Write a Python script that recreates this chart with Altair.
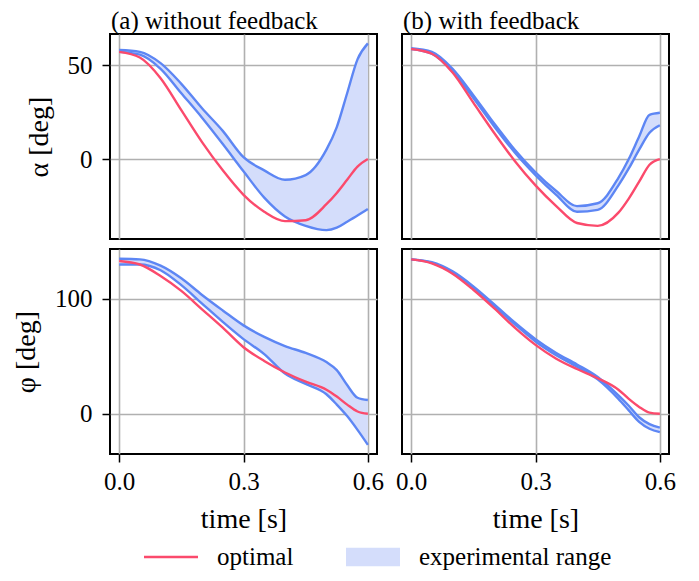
import altair as alt
import pandas as pd

# time grid [s]
T = [0.0, 0.05, 0.10, 0.15, 0.20, 0.25, 0.30, 0.35, 0.40, 0.45, 0.50, 0.525, 0.55, 0.575, 0.60]

# (a) without feedback, alpha [deg]
A_ALPHA_OPT = [57, 54, 43, 26, 9, -6, -19, -28, -33, -32.5, -24, -18, -11, -4, 0]
A_ALPHA_HI = [58, 57, 51, 40, 27, 15, 1, -6, -11, -8.5, 5, 17, 35, 53, 61.5]
A_ALPHA_LO = [57, 55.5, 48, 35, 22, 8, -6.5, -20.5, -30.5, -35.5, -37.8, -36.5, -33.3, -30, -26.5]

# (b) with feedback, alpha [deg]
B_ALPHA_OPT = [58.5, 56, 46, 30, 14, -1, -14, -25, -34, -35.5, -28.5, -21, -12, -3, 0]
B_ALPHA_HI = [58.9, 57, 48, 34, 19, 5, -7, -17, -25, -23.5, -10, 0, 12, 23.5, 24.6]
B_ALPHA_LO = [58.5, 56, 46.5, 32.5, 17.5, 3.5, -8.5, -19, -28, -27, -14, -5, 5, 14, 18]

# (a) without feedback, phi [deg]
A_PHI_OPT = [133, 130, 120, 107, 91, 75, 58, 46, 36, 28, 21, 15, 8, 2, 0]
A_PHI_HI = [135, 134.5, 129, 118, 103.5, 90, 77, 67, 59, 53, 45, 38, 25, 14, 12]
A_PHI_LO = [130, 130, 125, 112, 96, 80, 65, 52, 35, 26, 17, 8, -2, -14, -27]

# (b) with feedback, phi [deg]
B_PHI_OPT = [134.5, 131, 122, 108, 92, 75, 60, 48, 39, 31, 21, 13, 6, 1, 0]
B_PHI_HI = [134.5, 132, 124, 111, 95.5, 79.5, 65, 53, 43, 32, 16, 7, -3, -9, -12]
B_PHI_LO = [134.5, 131.5, 123, 110, 94, 78, 63, 51, 41, 30, 13, 3, -7, -13, -16]

X_TICKS = [0.0, 0.3, 0.6]
ALPHA_TICKS = [0, 50]
PHI_TICKS = [0, 100]
TITLES = ["(a) without feedback", "(b) with feedback"]
LEGEND_LABELS = ["optimal", "experimental range"]

RED = "#fb4a6c"
BLUE = "#5d86f4"
FILL = "#d4ddfb"
FONT = "Liberation Serif"
FS = 25
TFS = 28
LW = 2.4

W, H = 267, 205
X_DOMAIN = [-0.022, 0.622]
ALPHA_DOMAIN = [-42.5, 66.5]
PHI_DOMAIN = [-35, 143.5]

SYM_SIZE = 2916
LINE_PATH = "M-1,-0.045H1V0.045H-1Z"
RECT_PATH = "M-1,-0.34H1V0.34H-1Z"

LEG_X = 34
LEG_Y = 496


def panel(opt, lo, hi, ydomain, yticks, show_x, show_y, ytitle, title=None, legend=False):
    df = pd.DataFrame({"t": T, "opt": opt, "lo": lo, "hi": hi})
    base = alt.Chart(df)
    xscale = alt.Scale(domain=X_DOMAIN, nice=False, zero=False)
    yscale = alt.Scale(domain=ydomain, nice=False, zero=False)
    xaxis = alt.Axis(values=X_TICKS, format=".1f", grid=True, labels=show_x, ticks=show_x,
                     title="time [s]" if show_x else "")
    yaxis = alt.Axis(values=yticks, format="d", grid=True, labels=show_y, ticks=show_y,
                     title=ytitle if show_y else "")
    x = alt.X("t:Q", scale=xscale, axis=xaxis)

    def y(field):
        return alt.Y(field + ":Q", scale=yscale, axis=yaxis)

    area = base.mark_area(color=FILL, interpolate="monotone", opacity=1).encode(
        x=x, y=y("lo"), y2="hi:Q",
    )
    hi_line = base.mark_line(color=BLUE, strokeWidth=LW, interpolate="monotone").encode(x=x, y=y("hi"))
    lo_line = base.mark_line(color=BLUE, strokeWidth=LW, interpolate="monotone").encode(x=x, y=y("lo"))
    opt_line = base.mark_line(color=RED, strokeWidth=LW, interpolate="monotone").encode(x=x, y=y("opt"))
    layers = [area, hi_line, lo_line, opt_line]
    if legend:
        leg_df = pd.DataFrame({"series": LEGEND_LABELS})
        lg = alt.Legend(title=None, orient="none", direction="horizontal", legendX=LEG_X, legendY=LEG_Y,
                        symbolSize=SYM_SIZE, labelLimit=400)
        leg = alt.Chart(leg_df).mark_point(filled=True, size=SYM_SIZE, opacity=1).encode(
            color=alt.Color("series:N", scale=alt.Scale(domain=LEGEND_LABELS, range=[RED, FILL]), legend=lg),
            shape=alt.Shape("series:N", scale=alt.Scale(domain=LEGEND_LABELS, range=[LINE_PATH, RECT_PATH]),
                            legend=lg),
        ).transform_filter("false")
        layers.append(leg)
    ch = alt.layer(*layers).properties(width=W, height=H)
    if title:
        ch = ch.properties(title=alt.TitleParams(title, anchor="start", frame="group", font=FONT, fontSize=FS,
                                                 fontWeight="normal", color="black", offset=0, dx=1))
    return ch


p1 = panel(A_ALPHA_OPT, A_ALPHA_LO, A_ALPHA_HI, ALPHA_DOMAIN, ALPHA_TICKS, False, True, "α [deg]", TITLES[0])
p2 = panel(B_ALPHA_OPT, B_ALPHA_LO, B_ALPHA_HI, ALPHA_DOMAIN, ALPHA_TICKS, False, False, None, TITLES[1])
p3 = panel(A_PHI_OPT, A_PHI_LO, A_PHI_HI, PHI_DOMAIN, PHI_TICKS, True, True, "φ [deg]", legend=True)
p4 = panel(B_PHI_OPT, B_PHI_LO, B_PHI_HI, PHI_DOMAIN, PHI_TICKS, True, False, None)

chart = alt.concat(p1, p2, p3, p4, columns=2, spacing={"row": 10, "column": 25}, bounds="flush").properties(
    padding={"left": 3, "top": 0, "right": 5, "bottom": 5}
).resolve_scale(x="independent", y="independent").configure_view(
    stroke="black", strokeWidth=2
).configure_axis(
    domain=False, grid=True, gridColor="#b0b0b0", gridWidth=1.6,
    tickColor="black", tickWidth=1.5, tickSize=8,
    labelFont=FONT, labelFontSize=FS, labelColor="black",
    titleFont=FONT, titleFontSize=TFS, titleFontWeight="normal", titleColor="black",
).configure_axisX(
    labelPadding=7, titlePadding=11,
).configure_axisY(
    labelPadding=10, titlePadding=14,
).configure_legend(
    labelFont=FONT, labelFontSize=FS, labelColor="black", labelOffset=19,
    columnPadding=52, symbolStrokeWidth=0, symbolSize=SYM_SIZE, labelLimit=400,
)

chart.save("out.html", embed_options={"renderer": "svg", "actions": False})
